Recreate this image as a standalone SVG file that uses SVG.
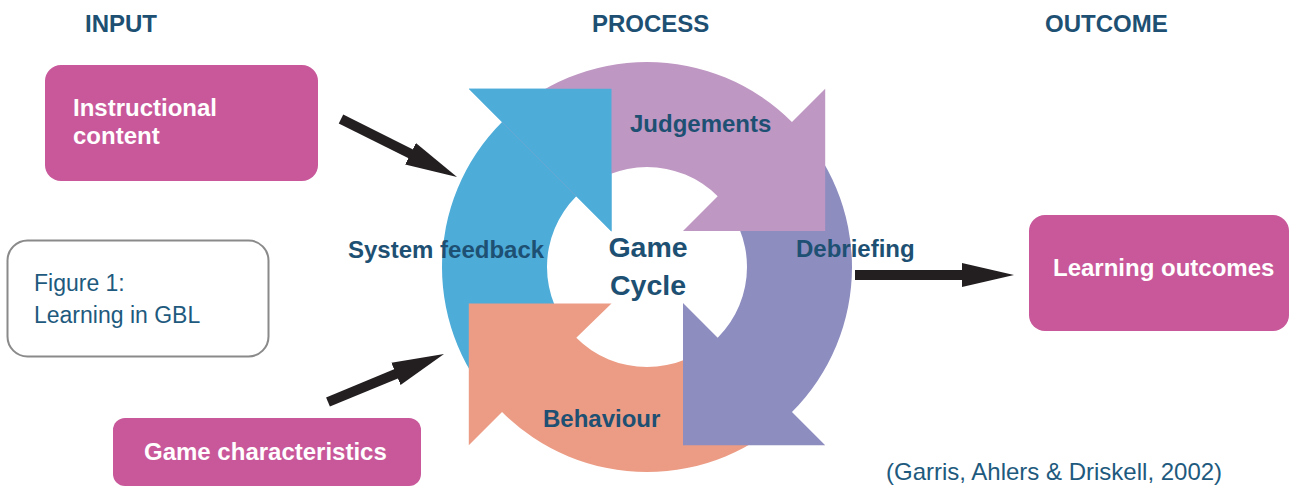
<svg xmlns="http://www.w3.org/2000/svg" width="1291" height="488" viewBox="0 0 1291 488">
  <style>
    .hd { font-family: "Liberation Sans", Arial, sans-serif; font-weight: bold; font-size: 24px; fill: #1D5072; }
    .lbl { font-family: "Liberation Sans", Arial, sans-serif; font-weight: bold; font-size: 24px; fill: #1D5072; }
    .big { font-family: "Liberation Sans", Arial, sans-serif; font-weight: bold; font-size: 28.5px; fill: #1D5072; text-anchor: middle; }
    .wt { font-family: "Liberation Sans", Arial, sans-serif; font-weight: bold; font-size: 24px; fill: #FFFFFF; }
    .reg { font-family: "Liberation Sans", Arial, sans-serif; font-size: 23px; fill: #1E5A7E; }
    .pink { fill: #C8589A; }
    .blue { fill: #4EACD9; }
    .purple { fill: #BF97C3; }
    .peri { fill: #8D8DC0; }
    .salmon { fill: #EC9C85; }
    .conn { stroke: #231F20; stroke-width: 10; fill: none; marker-end: url(#head); }
  </style>
  <defs>
    <marker id="head" markerUnits="userSpaceOnUse" markerWidth="60" markerHeight="30" viewBox="-2 -15 60 30" refX="0" refY="0" orient="auto">
      <path d="M-2,-12 L50,0 L-2,12 Z" fill="#231F20"/>
    </marker>
  </defs>

  <rect width="1291" height="488" fill="#FFFFFF"/>

  <!-- headings -->
  <text class="hd" x="85" y="32">INPUT</text>
  <text class="hd" x="592" y="32">PROCESS</text>
  <text class="hd" x="1045" y="32">OUTCOME</text>

  <!-- game cycle -->
  <g id="cycle">
    <path id="arrow-feedback" class="blue" d="M468.8,88.8 L611.5,88.8 L611.5,231.5 L576.29,196.29 A100,100 0 0 0 576.29,337.71 L502.04,411.96 A205,205 0 0 1 502.04,122.04 Z"/>
    <path id="arrow-behaviour" class="salmon" d="M468.8,445.2 L468.8,303.5 L611.5,303.5 L576.29,337.71 A100,100 0 0 0 717.71,337.71 L791.96,411.96 A205,205 0 0 1 502.04,411.96 Z"/>
    <path id="arrow-debriefing" class="peri" d="M825.2,445.2 L683,445.2 L683,303 L717.71,337.71 A100,100 0 0 0 717.71,196.29 L791.96,122.04 A205,205 0 0 1 791.96,411.96 Z"/>
    <path id="arrow-judgements" class="purple" d="M825.2,88.8 L825.2,231 L683,231 L717.71,196.29 A100,100 0 0 0 576.29,196.29 L502.04,122.04 A205,205 0 0 1 791.96,122.04 Z"/>
    <polygon id="head-feedback" class="blue" points="468.8,88.8 611.5,88.8 611.5,231.5"/>
    <text class="lbl" x="630" y="132">Judgements</text>
    <text class="lbl" x="796" y="257">Debriefing</text>
    <text class="lbl" x="543" y="427">Behaviour</text>
    <text class="lbl" x="348" y="258">System feedback</text>
    <text class="big" x="648" y="257">Game</text>
    <text class="big" x="648" y="295">Cycle</text>
  </g>

  <g id="instructional-content">
    <rect class="pink" x="45" y="65" width="273" height="116" rx="16"/>
    <text class="wt" x="73" y="116">Instructional</text>
    <text class="wt" x="73" y="144">content</text>
  </g>

  <g id="figure-label">
    <rect x="7.5" y="240.5" width="261" height="116" rx="20" fill="#FFFFFF" stroke="#8A8A8A" stroke-width="2"/>
    <text class="reg" x="34" y="291">Figure 1:</text>
    <text class="reg" x="34" y="323">Learning in GBL</text>
  </g>

  <g id="game-characteristics">
    <rect class="pink" x="113" y="418" width="308" height="68" rx="12"/>
    <text class="wt" x="144" y="460">Game characteristics</text>
  </g>

  <g id="learning-outcomes">
    <rect class="pink" x="1029" y="215" width="260" height="116" rx="16"/>
    <text class="wt" x="1053" y="276">Learning outcomes</text>
  </g>

  <g id="connectors">
    <line class="conn" x1="341" y1="119" x2="412.3" y2="154.6"/>
    <line class="conn" x1="328" y1="402" x2="397.8" y2="373.1"/>
    <line class="conn" x1="855" y1="275" x2="964" y2="275"/>
  </g>

  <text class="reg" x="886" y="480" style="font-size:24px">(Garris, Ahlers &amp; Driskell, 2002)</text>
</svg>
